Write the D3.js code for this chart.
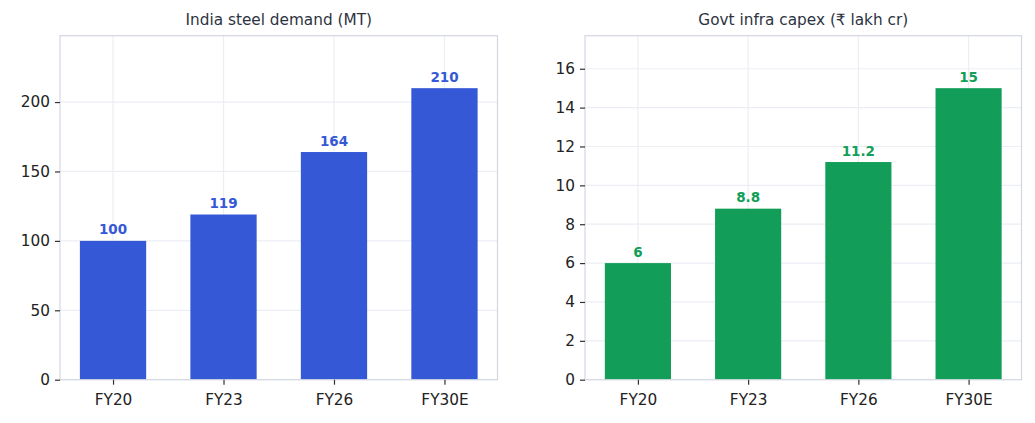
<!DOCTYPE html>
<html>
<head>
<meta charset="utf-8">
<script src="https://cdn.jsdelivr.net/npm/d3@7"></script>
<style>
  body { margin: 0; background: #fff; }
  svg { display: block; font-family: "DejaVu Sans", sans-serif; }
</style>
</head>
<body>
<svg id="chart" width="1035" height="423"></svg>
<script>
const categories = ["FY20", "FY23", "FY26", "FY30E"];
const steelDemand = [100, 119, 164, 210];
const infraCapex = [6, 8.8, 11.2, 15];
const steelTicks = [0, 50, 100, 150, 200];
const capexTicks = [0, 2, 4, 6, 8, 10, 12, 14, 16];
const steelLabels = ["100", "119", "164", "210"];
const capexLabels = ["6", "8.8", "11.2", "15"];

const svg = d3.select("#chart");

const panels = [
  { title: "India steel demand (MT)", values: steelDemand, labels: steelLabels, ticks: steelTicks,
    color: "#3558d6", left: 60, right: 497.5 },
  { title: "Govt infra capex (₹ lakh cr)", values: infraCapex, labels: capexLabels, ticks: capexTicks,
    color: "#129e59", left: 585, right: 1021.5 }
];
const plotTop = 35.7, plotBottom = 379.7;

panels.forEach(p => {
  const g = svg.append("g");
  const x = d3.scaleLinear().domain([-0.48, categories.length - 1 + 0.48]).range([p.left, p.right]);
  const y = d3.scaleLinear().domain([0, d3.max(p.values) * 1.18]).range([plotBottom, plotTop]);
  const bw = x(0.6) - x(0);

  // grid
  g.append("g").selectAll("line").data(p.ticks).join("line")
    .attr("x1", p.left).attr("x2", p.right)
    .attr("y1", d => y(d)).attr("y2", d => y(d))
    .attr("stroke", "#eceef4").attr("stroke-width", 1.2);
  g.append("g").selectAll("line").data(categories).join("line")
    .attr("x1", (d, i) => x(i)).attr("x2", (d, i) => x(i))
    .attr("y1", plotTop).attr("y2", plotBottom)
    .attr("stroke", "#eceef4").attr("stroke-width", 1.2);

  // bars
  g.append("g").selectAll("rect").data(p.values).join("rect")
    .attr("x", (d, i) => x(i) - bw / 2)
    .attr("width", bw)
    .attr("y", d => y(d))
    .attr("height", d => plotBottom - y(d))
    .attr("fill", p.color);

  // value labels
  g.append("g").selectAll("text").data(p.values).join("text")
    .attr("x", (d, i) => x(i))
    .attr("y", d => y(d) - 6.5)
    .attr("text-anchor", "middle")
    .attr("font-size", 13.5)
    .attr("font-weight", "bold")
    .attr("fill", p.color)
    .text((d, i) => p.labels[i]);

  // frame
  g.append("rect")
    .attr("x", p.left).attr("y", plotTop)
    .attr("width", p.right - p.left).attr("height", plotBottom - plotTop)
    .attr("fill", "none").attr("stroke", "#d3d7e2").attr("stroke-width", 1.2);

  // y axis
  const ya = d3.axisLeft(y).tickValues(p.ticks).tickSize(5).tickPadding(5).tickFormat(d3.format("d"));
  const yg = g.append("g").attr("transform", `translate(${p.left},0)`).call(ya);
  yg.select(".domain").remove();
  yg.selectAll(".tick line").attr("stroke", "#333").attr("stroke-width", 1.2);
  yg.selectAll(".tick text").attr("font-size", 15.3).attr("fill", "#222").attr("font-family", "DejaVu Sans");

  // x axis
  const xa = d3.axisBottom(x).tickValues(d3.range(categories.length)).tickSize(5).tickPadding(9)
    .tickFormat(i => categories[i]);
  const xg = g.append("g").attr("transform", `translate(0,${plotBottom})`).call(xa);
  xg.select(".domain").remove();
  xg.selectAll(".tick line").attr("stroke", "#333").attr("stroke-width", 1.2);
  xg.selectAll(".tick text").attr("font-size", 15.3).attr("fill", "#222").attr("font-family", "DejaVu Sans");

  // title
  g.append("text")
    .attr("x", (p.left + p.right) / 2).attr("y", 25)
    .attr("text-anchor", "middle")
    .attr("font-size", 15.3).attr("fill", "#2d3340")
    .text(p.title);
});
</script>
</body>
</html>
